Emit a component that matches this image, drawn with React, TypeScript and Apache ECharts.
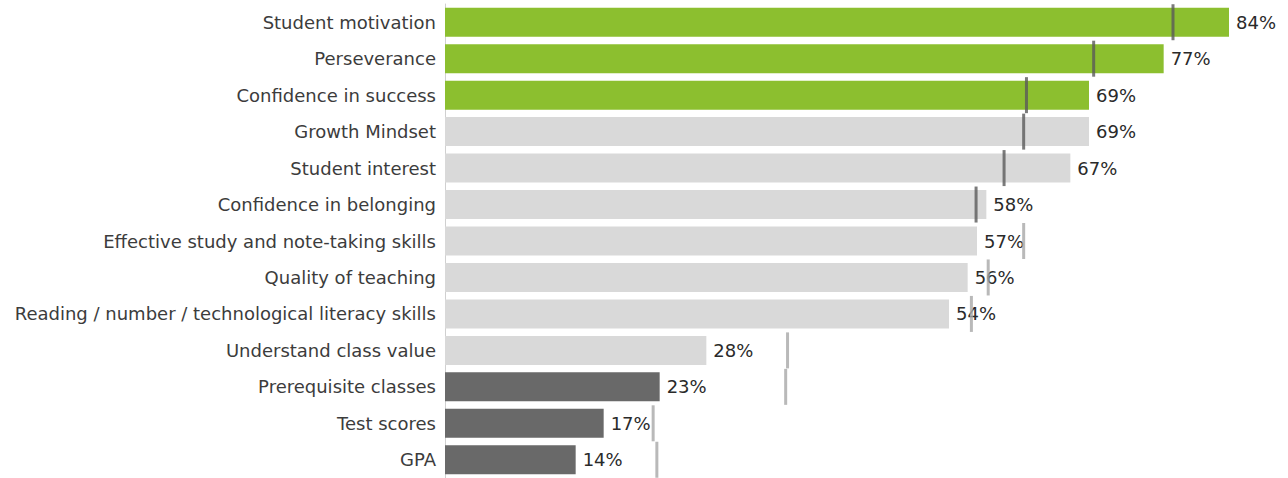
import React, { useEffect, useRef } from "react";
import * as echarts from "echarts";

const categories = [
  "Student motivation",
  "Perseverance",
  "Confidence in success",
  "Growth Mindset",
  "Student interest",
  "Confidence in belonging",
  "Effective study and note-taking skills",
  "Quality of teaching",
  "Reading / number / technological literacy skills",
  "Understand class value",
  "Prerequisite classes",
  "Test scores",
  "GPA",
];
const values = [84, 77, 69, 69, 67, 58, 57, 56, 54, 28, 23, 17, 14];
const markers = [78, 69.5, 62.3, 62, 59.9, 56.9, 62, 58.2, 56.4, 36.7, 36.5, 22.3, 22.7];
const groups = ["g", "g", "g", "l", "l", "l", "l", "l", "l", "l", "d", "d", "d"];
const markerTone = ["d", "d", "d", "d", "d", "d", "l", "l", "l", "l", "l", "l", "l"];

const barColors: Record<string, string> = { g: "#8cbf2f", l: "#d9d9d9", d: "#696969" };
const markerColors: Record<string, string> = { d: "#5a5a5a", l: "#a8a8a8" };

export default function App() {
  const ref = useRef<HTMLDivElement>(null);
  useEffect(() => {
    if (!ref.current) return;
    const chart = echarts.init(ref.current, null, { renderer: "svg" });
    const font = "'DejaVu Sans', sans-serif";
    chart.setOption({
      animation: false,
      grid: { left: 445, right: 3, top: 4, height: 477, containLabel: false },
      xAxis: {
        type: "value",
        min: 0,
        max: 90,
        show: false,
      },
      yAxis: {
        type: "category",
        data: categories,
        inverse: true,
        axisLine: { show: true, lineStyle: { color: "#d0d0d0", width: 1 } },
        axisTick: { show: false },
        axisLabel: { color: "#3c3c3c", fontSize: 18, fontFamily: font, margin: 9 },
      },
      series: [
        {
          type: "bar",
          data: values.map((v, i) => ({ value: v, itemStyle: { color: barColors[groups[i]] } })),
          barWidth: 29,
          label: {
            show: true,
            position: "right",
            distance: 7,
            formatter: "{c}%",
            color: "#2a2a2a",
            fontSize: 18,
            fontFamily: font,
          },
          z: 2,
        },
        {
          type: "scatter",
          data: markers.map((m, i) => ({
            value: [m, categories[i]],
            itemStyle: { color: markerColors[markerTone[i]] },
          })),
          symbol: "rect",
          symbolSize: [3, 36],
          z: 3,
        },
      ],
    });
    return () => chart.dispose();
  }, []);
  return (
    <div
      ref={ref}
      style={{ position: "fixed", left: 0, top: 0, width: 1288, height: 478, background: "#fff" }}
    />
  );
}
